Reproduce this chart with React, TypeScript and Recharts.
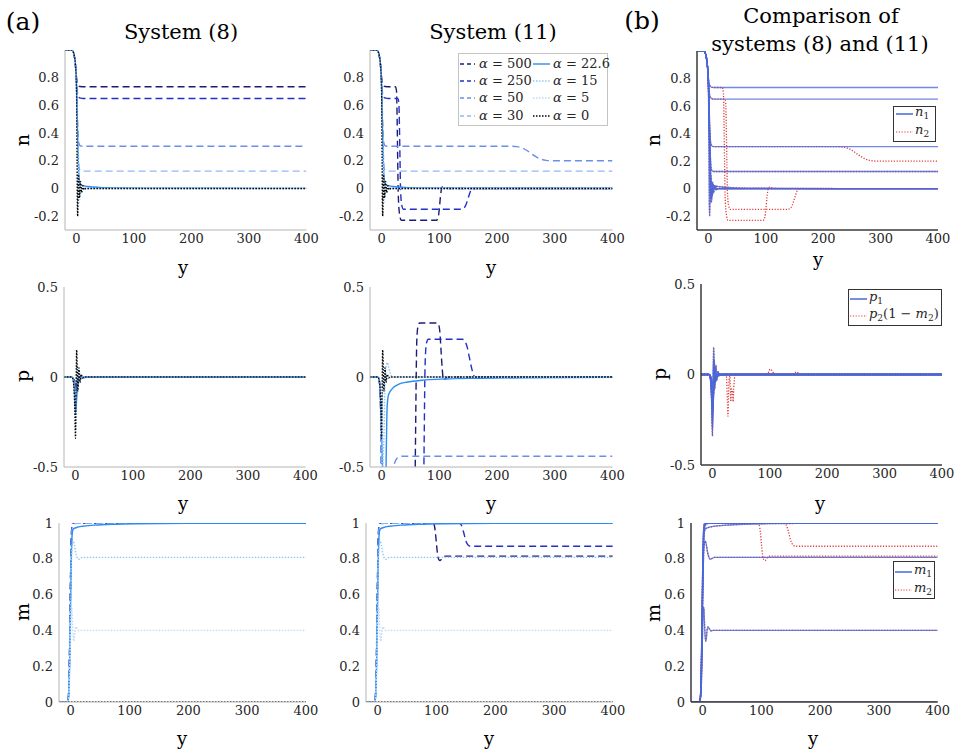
import React from 'react';
import { LineChart, Line, XAxis, YAxis } from 'recharts';

type Pt = [number, number];

const serif = '"DejaVu Serif", "Liberation Serif", serif';

// alpha values, legend order
const alphas = ['500', '250', '50', '30', '22.6', '15', '5', '0'];
const xTicks = [0, 100, 200, 300, 400];
const nTicks = [-0.2, 0, 0.2, 0.4, 0.6, 0.8];
const pTicks = [-0.5, 0, 0.5];
const mTicks = [0, 0.2, 0.4, 0.6, 0.8, 1];

// ---- n, system (8)
const n8_500: Pt[] = [[-20, 1], [-8, 1], [-6, 0.99], [-4, 0.96], [-2, 0.9], [0, 0.8], [1, 0.76], [3, 0.745], [6, 0.736], [10, 0.735], [400, 0.735]];
const n8_250: Pt[] = [[-20, 1], [-8, 1], [-6, 0.99], [-4, 0.96], [-2, 0.9], [0, 0.79], [1, 0.72], [2, 0.68], [4, 0.66], [7, 0.652], [12, 0.65], [400, 0.65]];
const n8_50: Pt[] = [[-20, 1], [-8, 1], [-6, 0.99], [-4, 0.96], [-2, 0.9], [0, 0.77], [1, 0.62], [2, 0.47], [3, 0.37], [4, 0.33], [6, 0.31], [10, 0.305], [400, 0.305]];
const n8_30: Pt[] = [[-20, 1], [-8, 1], [-6, 0.99], [-4, 0.96], [-2, 0.9], [0, 0.76], [1, 0.58], [2, 0.42], [3, 0.27], [4, 0.18], [5, 0.14], [7, 0.128], [10, 0.125], [400, 0.125]];
const n8_22: Pt[] = [[-20, 1], [-8, 1], [-6, 0.99], [-4, 0.96], [-2, 0.9], [0, 0.75], [1, 0.55], [2, 0.38], [3, 0.22], [4, 0.1], [5, 0.05], [7, 0.03], [10, 0.022], [20, 0.014], [40, 0.008], [80, 0.004], [150, 0.002], [250, 0.001], [400, 0.0005]];
const n8_15: Pt[] = [[-20, 1], [-8, 1], [-6, 0.99], [-4, 0.96], [-2, 0.9], [0, 0.74], [1, 0.52], [2, 0.33], [3, 0.16], [4, 0.04], [5, -0.03], [6, -0.05], [7, -0.04], [9, 0], [11, 0.015], [14, 0.005], [18, 0], [400, 0]];
const n8_5: Pt[] = [[-20, 1], [-8, 1], [-6, 0.99], [-4, 0.96], [-2, 0.9], [0, 0.73], [1, 0.48], [2, 0.24], [3, 0.04], [4, -0.09], [5, -0.1], [6, -0.06], [7, 0], [8, 0.03], [10, 0.02], [12, -0.005], [16, 0], [400, 0]];
const n8_0: Pt[] = [[-20, 1], [-8, 1], [-6, 0.99], [-4, 0.96], [-2, 0.9], [0, 0.72], [1, 0.2], [1.5, -0.1], [2, -0.2], [2.5, -0.1], [3, 0.05], [3.5, 0.1], [4, 0.06], [5, -0.07], [6, -0.02], [7, 0.05], [8, 0.01], [9, -0.03], [10, 0], [11, 0.02], [13, -0.01], [16, 0], [400, 0]];

// ---- n, system (11)
const n11_500: Pt[] = [[-20, 1], [-8, 1], [-6, 0.99], [-4, 0.96], [-2, 0.9], [0, 0.8], [1, 0.76], [3, 0.745], [6, 0.736], [10, 0.735], [24, 0.735], [26, 0.7], [27, 0.5], [28, 0.2], [29, -0.05], [31, -0.18], [34, -0.23], [95, -0.23], [98, -0.21], [100, -0.15], [102, -0.06], [104, 0], [106, 0.012], [109, 0.008], [114, 0.002], [120, 0], [400, 0]];
const n11_250: Pt[] = [[-20, 1], [-8, 1], [-6, 0.99], [-4, 0.96], [-2, 0.9], [0, 0.79], [1, 0.72], [2, 0.68], [4, 0.66], [7, 0.652], [12, 0.65], [28, 0.65], [30, 0.62], [31, 0.45], [32, 0.2], [33, -0.02], [35, -0.12], [38, -0.15], [138, -0.15], [142, -0.145], [146, -0.12], [150, -0.07], [154, -0.02], [157, 0], [400, 0]];
const n11_50: Pt[] = [[-20, 1], [-8, 1], [-6, 0.99], [-4, 0.96], [-2, 0.9], [0, 0.77], [1, 0.62], [2, 0.47], [3, 0.37], [4, 0.33], [6, 0.31], [10, 0.305], [225, 0.305], [235, 0.302], [245, 0.29], [255, 0.265], [265, 0.235], [275, 0.213], [285, 0.203], [295, 0.2], [400, 0.2]];
const n11_30 = n8_30;
const n11_22 = n8_22;
const n11_15 = n8_15;
const n11_5 = n8_5;
const n11_0 = n8_0;

// ---- p, system (8)
const p8_500: Pt[] = [[-20, 0], [-6, 0], [-4, -0.005], [-2, -0.02], [0, -0.05], [1, -0.045], [3, -0.025], [6, -0.008], [10, 0], [400, 0]];
const p8_250: Pt[] = [[-20, 0], [-6, 0], [-4, -0.006], [-2, -0.03], [0, -0.07], [1, -0.065], [3, -0.035], [6, -0.01], [10, 0], [400, 0]];
const p8_50: Pt[] = [[-20, 0], [-6, 0], [-4, -0.01], [-2, -0.05], [0, -0.12], [1, -0.1], [3, -0.05], [6, -0.015], [11, 0], [400, 0]];
const p8_30: Pt[] = [[-20, 0], [-6, 0], [-4, -0.01], [-2, -0.06], [0, -0.16], [1, -0.14], [3, -0.06], [6, -0.02], [12, 0], [400, 0]];
const p8_22: Pt[] = [[-20, 0], [-6, 0], [-4, -0.012], [-2, -0.07], [0, -0.2], [1, -0.17], [3, -0.07], [5, -0.03], [8, -0.012], [14, -0.004], [25, 0], [400, 0]];
const p8_15: Pt[] = [[-20, 0], [-6, 0], [-4, -0.012], [-2, -0.08], [0, -0.24], [1, -0.16], [2, -0.03], [3, 0.04], [4, 0.04], [6, 0], [8, -0.015], [11, 0], [14, 0], [400, 0]];
const p8_5: Pt[] = [[-20, 0], [-6, 0], [-4, -0.015], [-2, -0.09], [0, -0.29], [1, -0.12], [2, 0.06], [3, 0.08], [4, 0.03], [5, -0.03], [6, -0.04], [8, 0], [9, 0.015], [12, 0], [400, 0]];
const p8_0: Pt[] = [[-20, 0], [-6, 0], [-4, -0.02], [-2, -0.1], [-1, -0.2], [0, -0.34], [1, -0.08], [2, 0.15], [3, 0.04], [4, -0.08], [5, -0.02], [6, 0.05], [7, 0.01], [8, -0.03], [9, 0], [10, 0.015], [12, -0.005], [15, 0], [400, 0]];

// ---- p, system (11)
const p11_500: Pt[] = [[-20, 0], [-6, 0], [-4, -0.02], [-2, -0.12], [-1, -0.3], [0, -0.55], [1, -0.9], [57, -0.9], [58, -0.6], [59, -0.3], [60, 0], [61, 0.2], [63, 0.28], [66, 0.3], [96, 0.3], [99, 0.29], [101, 0.25], [103, 0.15], [105, 0.05], [107, -0.01], [109, -0.015], [112, -0.005], [118, 0], [400, 0]];
const p11_250: Pt[] = [[-20, 0], [-6, 0], [-4, -0.02], [-2, -0.12], [-1, -0.3], [0, -0.55], [1, -0.9], [72, -0.9], [73, -0.6], [74, -0.3], [75, 0], [76, 0.12], [78, 0.19], [81, 0.21], [140, 0.21], [144, 0.2], [148, 0.17], [152, 0.11], [156, 0.05], [159, 0.015], [162, 0], [400, 0]];
const p11_50: Pt[] = [[-20, 0], [-6, 0], [-4, -0.02], [-2, -0.1], [-1, -0.25], [0, -0.5], [1, -0.8], [19, -0.8], [20, -0.6], [21, -0.5], [23, -0.475], [26, -0.455], [30, -0.445], [36, -0.44], [400, -0.44]];
const p11_30: Pt[] = [[-20, 0], [-6, 0], [-4, -0.02], [-2, -0.1], [-1, -0.25], [0, -0.5], [1, -0.8], [400, -0.8]];
const p11_22: Pt[] = [[-20, 0], [-6, 0], [-4, -0.02], [-2, -0.1], [0, -0.3], [2, -0.55], [4, -0.7], [7, -0.7], [8, -0.45], [9, -0.25], [10, -0.15], [12, -0.1], [15, -0.08], [20, -0.06], [30, -0.04], [45, -0.028], [70, -0.018], [110, -0.011], [170, -0.007], [250, -0.004], [400, -0.002]];
const p11_15: Pt[] = [[-20, 0], [-6, 0], [-4, -0.02], [-2, -0.1], [0, -0.28], [2, -0.5], [4, -0.35], [6, -0.05], [8, 0.06], [10, 0.08], [12, 0.06], [15, 0.02], [19, 0], [400, 0]];
const p11_5: Pt[] = [[-20, 0], [-6, 0], [-4, -0.02], [-2, -0.1], [0, -0.3], [1, -0.3], [2, -0.1], [3, 0.05], [5, 0.06], [7, -0.03], [9, 0.01], [12, 0], [400, 0]];
const p11_0 = p8_0;

// ---- p2(1 - m2), system (11), comparison panel
const pm_500: Pt[] = [[-20, 0], [-6, 0], [-4, -0.005], [-2, -0.02], [0, -0.05], [1, -0.045], [3, -0.025], [6, -0.008], [10, 0], [24, 0], [25, -0.05], [26, -0.15], [27, -0.23], [28, -0.12], [29, -0.03], [31, 0], [96, 0], [98, 0.015], [101, 0.03], [104, 0.02], [107, 0.005], [110, 0], [400, 0]];
const pm_250: Pt[] = [[-20, 0], [-6, 0], [-4, -0.006], [-2, -0.03], [0, -0.07], [1, -0.065], [3, -0.035], [6, -0.01], [10, 0], [30, 0], [31, -0.06], [32, -0.15], [33, -0.08], [35, -0.1], [36, -0.15], [37, -0.08], [39, -0.01], [41, 0], [141, 0], [144, 0.01], [147, 0.015], [150, 0.006], [153, 0], [400, 0]];

// ---- m, system (8)
const m8_500: Pt[] = [[-20, 0], [-6, 0], [-4, 0.03], [-3, 0.12], [-2, 0.3], [-1, 0.55], [0, 0.78], [1, 0.93], [2, 0.985], [3, 1], [400, 1]];
const m8_250: Pt[] = [[-20, 0], [-6, 0], [-4, 0.03], [-3, 0.11], [-2, 0.28], [-1, 0.52], [0, 0.75], [1, 0.91], [2, 0.975], [4, 0.998], [6, 1], [400, 1]];
const m8_50: Pt[] = [[-20, 0], [-6, 0], [-4, 0.025], [-3, 0.1], [-2, 0.25], [-1, 0.48], [0, 0.7], [1, 0.87], [2, 0.95], [4, 0.99], [8, 1], [400, 1]];
const m8_30: Pt[] = [[-20, 0], [-6, 0], [-4, 0.025], [-3, 0.09], [-2, 0.23], [-1, 0.45], [0, 0.67], [1, 0.85], [2, 0.94], [4, 0.985], [8, 0.997], [15, 1], [400, 1]];
const m8_22: Pt[] = [[-20, 0], [-6, 0], [-4, 0.02], [-3, 0.08], [-2, 0.21], [-1, 0.42], [0, 0.63], [1, 0.82], [2, 0.92], [3, 0.955], [5, 0.968], [10, 0.975], [20, 0.982], [40, 0.988], [70, 0.993], [110, 0.996], [200, 0.998], [400, 0.999]];
const m8_15: Pt[] = [[-20, 0], [-6, 0], [-4, 0.02], [-3, 0.07], [-2, 0.18], [-1, 0.38], [0, 0.58], [1, 0.76], [2, 0.86], [4, 0.9], [6, 0.88], [8, 0.84], [11, 0.805], [13, 0.797], [16, 0.802], [20, 0.808], [400, 0.808]];
const m8_5: Pt[] = [[-20, 0], [-6, 0], [-4, 0.015], [-3, 0.05], [-2, 0.13], [-1, 0.28], [0, 0.43], [1, 0.53], [2, 0.52], [3, 0.44], [4, 0.37], [5, 0.34], [6, 0.35], [7, 0.39], [9, 0.42], [11, 0.41], [14, 0.398], [18, 0.4], [400, 0.4]];
const m8_0: Pt[] = [[-20, 0], [400, 0]];

// ---- m, system (11)
const m11_500: Pt[] = [[-20, 0], [-6, 0], [-4, 0.03], [-3, 0.12], [-2, 0.3], [-1, 0.55], [0, 0.78], [1, 0.93], [2, 0.985], [3, 1], [94, 1], [96, 0.99], [98, 0.95], [100, 0.88], [102, 0.82], [104, 0.795], [106, 0.79], [108, 0.797], [111, 0.81], [115, 0.815], [400, 0.815]];
const m11_250: Pt[] = [[-20, 0], [-6, 0], [-4, 0.03], [-3, 0.11], [-2, 0.28], [-1, 0.52], [0, 0.75], [1, 0.91], [2, 0.975], [4, 0.998], [6, 1], [138, 1], [142, 0.99], [146, 0.95], [150, 0.9], [154, 0.876], [158, 0.87], [400, 0.87]];
const m11_50 = m8_50;
const m11_30 = m8_30;
const m11_22 = m8_22;
const m11_15 = m8_15;
const m11_5 = m8_5;
const m11_0 = m8_0;

const n8 = [n8_500, n8_250, n8_50, n8_30, n8_22, n8_15, n8_5, n8_0];
const n11 = [n11_500, n11_250, n11_50, n11_30, n11_22, n11_15, n11_5, n11_0];
const p8 = [p8_500, p8_250, p8_50, p8_30, p8_22, p8_15, p8_5, p8_0];
const p11 = [p11_500, p11_250, p11_50, p11_30, p11_22, p11_15, p11_5, p11_0];
const pm = [pm_500, pm_250, p8_50, p8_30, p8_22, p8_15, p8_5, p8_0];
const m8 = [m8_500, m8_250, m8_50, m8_30, m8_22, m8_15, m8_5, m8_0];
const m11 = [m11_500, m11_250, m11_50, m11_30, m11_22, m11_15, m11_5, m11_0];

// styling for the alpha sweep
const alphaColors = ['#1c1c78', '#2330c8', '#6b8ee8', '#98b6f2', '#2b8cf2', '#8fc7f2', '#bcdaf5', '#000000'];
const alphaDash = ['7 4', '7 4', '7 4', '7 4', undefined, '1.5 1.5', '1.5 1.5', '1.5 1.5'];
const blue1 = '#4668dc';
const red2 = '#e23b3b';

type Series = { pts: Pt[]; color: string; dash?: string; width: number; opacity?: number };

const toRows = (pts: Pt[]) => pts.map(([y, v]) => ({ y, v }));

const sweep = (list: Pt[][]): Series[] =>
  list.map((pts, i) => ({ pts, color: alphaColors[i], dash: alphaDash[i], width: 1.4 }));

// red (system 11) underneath, blue (system 8) on top, slightly see-through
const compare = (a: Pt[][], b: Pt[][]): Series[] => [
  ...b.map((pts) => ({ pts, color: red2, dash: '1.2 1.6', width: 1.3 })),
  ...a.map((pts) => ({ pts, color: blue1, width: 1.3, opacity: 0.78 })),
];

function Panel({ box, domain, ticks, series, dark }: { box: number[]; domain: number[]; ticks: number[]; series: Series[]; dark?: boolean }) {
  const [x0, y0, x1, y1] = box;
  const padL = 50, padT = 10, padR = 18, padB = 24;
  const axisColor = dark ? '#3a3a3a' : '#b4b4b4';
  const tick = { fill: '#262626', fontSize: 13, fontFamily: serif };
  return (
    <div style={{ position: 'absolute', left: x0 - padL, top: y0 - padT }}>
      <LineChart width={x1 - x0 + padL + padR} height={y1 - y0 + padT + padB} margin={{ top: padT, right: padR, bottom: 0, left: 0 }}>
        <XAxis type="number" dataKey="y" domain={[-20, 400]} ticks={xTicks} allowDataOverflow height={padB}
          tickSize={0} tickMargin={4} tickLine={false} stroke={axisColor} strokeWidth={dark ? 1.5 : 1} tick={tick} interval={0} />
        <YAxis type="number" domain={domain} ticks={ticks} allowDataOverflow width={padL}
          tickSize={0} tickMargin={6} tickLine={false} stroke={axisColor} strokeWidth={dark ? 1.5 : 1} tick={tick} interval={0} />
        {series.map((s, i) => (
          <Line key={i} data={toRows(s.pts)} dataKey="v" type="monotone" stroke={s.color} strokeWidth={s.width}
            strokeOpacity={s.opacity ?? 1} strokeDasharray={s.dash} dot={false} activeDot={false} isAnimationActive={false} />
        ))}
      </LineChart>
    </div>
  );
}

function Text({ x, y, size, rotate, children }: { x: number; y: number; size: number; rotate?: boolean; children: React.ReactNode }) {
  return (
    <div style={{ position: 'absolute', left: x, top: y, transform: `translate(-50%, -50%)${rotate ? ' rotate(-90deg)' : ''}`,
      fontFamily: serif, fontSize: size, color: '#000', whiteSpace: 'nowrap', lineHeight: 1 }}>
      {children}
    </div>
  );
}

function Key({ x, y, len, gap, color, dash, width, children }: { x: number; y: number; len: number; gap: number; color: string; dash?: string; width: number; children: React.ReactNode }) {
  return (
    <div style={{ position: 'absolute', left: x, top: y - 9, height: 18, display: 'flex', alignItems: 'center',
      fontFamily: serif, fontSize: 13, color: '#262626', whiteSpace: 'nowrap' }}>
      <svg width={len} height={18} style={{ marginRight: gap, flex: 'none' }}>
        <line x1={0} y1={9} x2={len} y2={9} stroke={color} strokeWidth={width} strokeDasharray={dash} />
      </svg>
      <span style={{ lineHeight: '18px' }}>{children}</span>
    </div>
  );
}

const Sub = ({ children }: { children: React.ReactNode }) => (
  <span style={{ fontSize: 9, verticalAlign: '-3px' }}>{children}</span>
);

const Box = ({ x0, y0, x1, y1, dark }: { x0: number; y0: number; x1: number; y1: number; dark?: boolean }) => (
  <div style={{ position: 'absolute', left: x0, top: y0, width: x1 - x0, height: y1 - y0, boxSizing: 'border-box',
    border: dark ? '1.5px solid #333' : '1px solid #c4c4c4', background: '#fff' }} />
);

export default function App() {
  const leftCol = [0, 1, 2, 3];
  const rightCol = [4, 5, 6, 7];
  const rowY = [64, 81.3, 98.3, 115.7];
  return (
    <div style={{ position: 'absolute', left: 0, top: 0, width: 956, height: 751, background: '#fff', overflow: 'hidden' }}>
      {/* row 1: n */}
      <Panel box={[64.5, 50, 306, 230]} domain={[-0.3, 1]} ticks={nTicks} series={sweep(n8)} />
      <Panel box={[369.5, 50, 612, 230]} domain={[-0.3, 1]} ticks={nTicks} series={sweep(n11)} />
      <Panel box={[697, 51, 938, 230]} domain={[-0.3, 1]} ticks={nTicks} series={compare(n8, n11)} dark />
      {/* row 2: p */}
      <Panel box={[63.5, 287, 305, 467]} domain={[-0.5, 0.5]} ticks={pTicks} series={sweep(p8)} />
      <Panel box={[369.5, 287, 612, 467]} domain={[-0.5, 0.5]} ticks={pTicks} series={sweep(p11)} />
      <Panel box={[701, 284, 942, 465]} domain={[-0.5, 0.5]} ticks={pTicks} series={compare(p8, pm)} dark />
      {/* row 3: m */}
      <Panel box={[58.5, 523, 305.5, 702]} domain={[0, 1]} ticks={mTicks} series={sweep(m8)} />
      <Panel box={[365.5, 523, 612.3, 702]} domain={[0, 1]} ticks={mTicks} series={sweep(m11)} />
      <Panel box={[691, 523.3, 937.7, 702.3]} domain={[0, 1]} ticks={mTicks} series={compare(m8, m11)} dark />

      {/* legend, system (11) */}
      <Box x0={458} y0={53} x1={608} y1={126} />
      {leftCol.map((i, r) => (
        <Key key={alphas[i]} x={460} y={rowY[r]} len={15} gap={4} color={alphaColors[i]} dash={alphaDash[i] === '7 4' ? '4 3' : alphaDash[i]} width={1.4}>
          <i>α</i>&nbsp;=&nbsp;{alphas[i]}
        </Key>
      ))}
      {rightCol.map((i, r) => (
        <Key key={alphas[i]} x={533} y={rowY[r]} len={17} gap={3} color={alphaColors[i]} dash={alphaDash[i]} width={1.4}>
          <i>α</i>&nbsp;=&nbsp;{alphas[i]}
        </Key>
      ))}

      {/* legends, comparison column */}
      <Box x0={893} y0={106} x1={936} y1={142} dark />
      <Key x={896} y={114} len={17} gap={2} color={blue1} width={1.5}><i>n</i><Sub>1</Sub></Key>
      <Key x={896} y={132} len={17} gap={2} color={red2} dash="1.2 1.6" width={1.2}><i>n</i><Sub>2</Sub></Key>

      <Box x0={848} y0={289} x1={942} y1={326} dark />
      <Key x={850} y={299} len={17} gap={2} color={blue1} width={1.5}><i>p</i><Sub>1</Sub></Key>
      <Key x={850} y={316} len={17} gap={2} color={red2} dash="1.2 1.6" width={1.2}>
        <i>p</i><Sub>2</Sub>(1&nbsp;−&nbsp;<i>m</i><Sub>2</Sub>)
      </Key>

      <Box x0={893} y0={561} x1={935} y1={599} dark />
      <Key x={895} y={572} len={17} gap={2} color={blue1} width={1.5}><i>m</i><Sub>1</Sub></Key>
      <Key x={895} y={590} len={17} gap={2} color={red2} dash="1.2 1.6" width={1.2}><i>m</i><Sub>2</Sub></Key>

      {/* titles */}
      <Text x={23} y={21} size={25}>(a)</Text>
      <Text x={642} y={20} size={25}>(b)</Text>
      <Text x={181} y={32} size={21}>System (8)</Text>
      <Text x={493} y={32} size={21}>System (11)</Text>
      <Text x={821} y={16} size={21}>Comparison of</Text>
      <Text x={820} y={44} size={21}>systems (8) and (11)</Text>

      {/* axis labels */}
      <Text x={22} y={140} size={19} rotate>n</Text>
      <Text x={653} y={140} size={19} rotate>n</Text>
      <Text x={22} y={376} size={19} rotate>p</Text>
      <Text x={659} y={374} size={19} rotate>p</Text>
      <Text x={22} y={612} size={19} rotate>m</Text>
      <Text x={653} y={613} size={19} rotate>m</Text>

      <Text x={183} y={268} size={18}>y</Text>
      <Text x={491} y={268} size={18}>y</Text>
      <Text x={818} y={260} size={18}>y</Text>
      <Text x={183} y={504} size={18}>y</Text>
      <Text x={491} y={504} size={18}>y</Text>
      <Text x={820} y={504} size={18}>y</Text>
      <Text x={182} y={739} size={18}>y</Text>
      <Text x={489} y={739} size={18}>y</Text>
      <Text x={813} y={739} size={18}>y</Text>
    </div>
  );
}
